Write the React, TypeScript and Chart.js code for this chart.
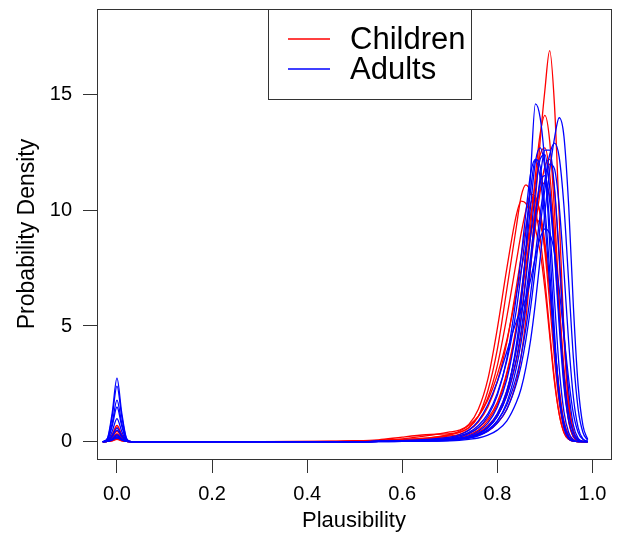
import React, { useEffect, useRef } from "react";
import { Chart, registerables } from "chart.js";

Chart.register(...registerables);

// Plausibility grid on which the density curves are read
const XS = [
  -0.03, -0.02, -0.01, 0, 0.01, 0.02, 0.03, 0.1, 0.3, 0.45, 0.5, 0.55,
  0.6, 0.65, 0.7, 0.72, 0.74, 0.76, 0.78, 0.8, 0.82, 0.84, 0.85, 0.86,
  0.87, 0.88, 0.89, 0.9, 0.91, 0.92, 0.93, 0.94, 0.95, 0.96, 0.97, 0.98, 0.99,
];

const X_TICKS = [0, 0.2, 0.4, 0.6, 0.8, 1.0];
const Y_TICKS = [0, 5, 10, 15];
const LEGEND_LABELS = ["Children", "Adults"];
const X_TITLE = "Plausibility";
const Y_TITLE = "Probability Density";

// Children (red)
const CHILD_1 = [0,0.01,0.07,0.15,0.07,0.01,0, 0,0,0,0,0.01, 0.02,0.04,0.08,0.12,0.18,0.28,0.45,0.8,1.4,2.6,3.7,5.3,7.6,10.4,13.0,15.2,16.9,14.6,9.8,4.8,1.6,0.4,0.06,0,0];
const CHILD_2 = [0,0.04,0.32,0.7,0.32,0.04,0, 0,0,0,0.01,0.02, 0.03,0.06,0.1,0.15,0.25,0.4,0.7,1.2,2.2,4.0,5.4,7.2,9.3,11.5,13.3,14.1,13.0,10.0,6.1,2.8,0.9,0.2,0.03,0,0];
const CHILD_3 = [0,0.02,0.2,0.45,0.2,0.02,0, 0,0,0,0,0.02, 0.05,0.1,0.2,0.26,0.36,0.6,1.0,1.7,3.0,5.0,6.4,8.0,9.7,11.2,12.4,12.7,11.6,9.0,5.6,2.6,0.9,0.2,0.03,0,0];
const CHILD_4 = [0,0.02,0.14,0.3,0.14,0.02,0, 0,0,0.02,0.03,0.05, 0.1,0.15,0.3,0.4,0.6,1.1,2.2,4.0,6.6,9.3,10.6,11.1,10.8,10.0,8.8,7.0,4.8,2.7,1.2,0.4,0.1,0.02,0,0,0];
const CHILD_5 = [0,0.01,0.09,0.2,0.09,0.01,0, 0,0,0,0.02,0.06, 0.12,0.25,0.42,0.5,0.75,1.4,2.7,4.9,7.5,9.8,10.4,10.3,9.8,9.2,8.2,6.6,4.6,2.6,1.2,0.4,0.1,0.02,0,0,0];
const CHILD_6 = [0,0.03,0.27,0.6,0.27,0.03,0, 0,0,0,0.01,0.02, 0.03,0.08,0.15,0.2,0.3,0.5,0.9,1.6,2.9,4.9,6.2,7.6,8.9,10.0,10.9,11.2,10.6,8.8,6.0,3.2,1.3,0.4,0.1,0.02,0];
const CHILD_7 = [0,0.01,0.11,0.25,0.11,0.01,0, 0,0,0.01,0.03,0.08, 0.2,0.3,0.35,0.4,0.6,1.1,1.9,3.3,5.4,7.8,9.0,10.0,10.7,10.6,9.8,8.2,6.0,3.6,1.7,0.6,0.15,0.03,0,0,0];
const CHILD_8 = [0,0.01,0.04,0.1,0.04,0.01,0, 0,0,0,0,0.01, 0.02,0.05,0.1,0.15,0.2,0.35,0.6,1.1,2.0,3.5,4.6,6.0,7.6,9.3,10.8,11.9,12.2,10.9,7.9,4.4,1.8,0.5,0.1,0.01,0];
const CHILD_9 = [0,0.02,0.16,0.35,0.16,0.02,0, 0,0,0,0.02,0.04, 0.08,0.15,0.3,0.45,0.7,1.1,1.8,2.9,4.4,6.4,7.4,8.4,9.1,9.6,9.4,8.4,6.6,4.3,2.3,0.9,0.3,0.06,0,0,0];
const CHILD_10 = [0,0.01,0.05,0.12,0.05,0.01,0, 0,0,0,0.01,0.03, 0.06,0.12,0.25,0.32,0.5,0.85,1.5,2.6,4.3,6.7,8.0,9.3,10.3,10.5,9.9,8.6,6.6,4.3,2.2,0.8,0.2,0.04,0,0,0];

// Adults (blue)
const ADULT_1 = [0,0.15,1.25,2.75,1.25,0.15,0, 0,0,0,0,0.01, 0.02,0.04,0.08,0.12,0.2,0.35,0.6,1.1,2.1,4.2,5.9,8.3,11.6,14.6,14.0,12.0,8.6,4.8,2.0,0.6,0.12,0.02,0,0,0];
const ADULT_2 = [0,0.08,0.68,1.5,0.68,0.08,0, 0,0,0,0,0, 0.01,0.02,0.04,0.06,0.1,0.16,0.28,0.5,0.9,1.7,2.3,3.2,4.4,6.0,7.9,9.9,11.7,13.1,14.0,13.2,10.2,5.8,2.4,0.7,0.1];
const ADULT_3 = [0,0.03,0.22,0.5,0.22,0.03,0, 0,0,0,0,0.01, 0.02,0.04,0.08,0.12,0.18,0.3,0.5,0.9,1.6,2.8,3.7,4.9,6.4,8.1,9.8,11.3,12.4,12.9,12.3,10.2,6.9,3.6,1.4,0.4,0.06];
const ADULT_4 = [0,0.13,1.1,2.4,1.1,0.13,0, 0,0,0,0,0.01, 0.02,0.05,0.1,0.15,0.25,0.45,0.8,1.5,2.7,4.8,6.3,8.2,10.2,12.1,12.7,11.8,9.4,6.2,3.2,1.3,0.4,0.08,0.01,0,0];
const ADULT_5 = [0,0.1,0.8,1.8,0.8,0.1,0, 0,0,0,0,0.01, 0.02,0.04,0.07,0.1,0.16,0.28,0.5,0.9,1.7,3.2,4.3,5.8,7.6,9.6,11.4,12.6,12.6,11.0,8.1,4.8,2.2,0.7,0.15,0.02,0];
const ADULT_6 = [0,0.05,0.45,1.0,0.45,0.05,0, 0,0,0,0,0.01, 0.03,0.06,0.12,0.2,0.35,0.6,1.1,2.0,3.6,6.3,8.0,9.9,11.6,12.2,11.4,9.5,6.8,4.0,1.9,0.7,0.2,0.04,0,0,0];
const ADULT_7 = [0,0.02,0.13,0.3,0.13,0.02,0, 0,0,0,0,0.01, 0.03,0.07,0.15,0.25,0.4,0.7,1.2,2.1,3.5,5.7,7.3,9.1,10.9,12.2,11.9,10.1,7.4,4.4,2.1,0.8,0.2,0.04,0,0,0];
const ADULT_8 = [0,0.01,0.09,0.2,0.09,0.01,0, 0,0,0,0,0.02, 0.05,0.1,0.2,0.3,0.5,0.9,1.6,2.6,3.9,5.2,5.7,6.2,7.0,8.0,8.8,9.2,9.0,8.2,6.6,4.6,2.7,1.2,0.4,0.1,0.02];
const ADULT_9 = [0,0.03,0.27,0.6,0.27,0.03,0, 0,0,0,0,0.01, 0.02,0.05,0.1,0.14,0.2,0.35,0.6,1.1,2.0,3.6,4.8,6.3,8.0,9.8,11.2,11.5,10.4,8.2,5.4,2.9,1.2,0.4,0.08,0.01,0];
const ADULT_10 = [0,0.01,0.07,0.15,0.07,0.01,0, 0,0,0,0,0, 0.01,0.03,0.06,0.1,0.15,0.25,0.45,0.8,1.4,2.5,3.3,4.4,5.8,7.5,9.3,10.9,12.0,11.8,10.2,7.4,4.3,1.9,0.6,0.12,0.02];
const ADULT_11 = [0,0.01,0.11,0.25,0.11,0.01,0, 0,0,0,0,0.01, 0.02,0.04,0.08,0.12,0.2,0.35,0.65,1.2,2.2,4.0,5.3,7.0,8.9,10.8,12.2,12.4,11.0,8.2,5.0,2.4,0.9,0.25,0.05,0,0];

const CHILDREN = [CHILD_1, CHILD_2, CHILD_3, CHILD_4, CHILD_5, CHILD_6, CHILD_7, CHILD_8, CHILD_9, CHILD_10];
const ADULTS = [ADULT_1, ADULT_2, ADULT_3, ADULT_4, ADULT_5, ADULT_6, ADULT_7, ADULT_8, ADULT_9, ADULT_10, ADULT_11];

const RED = "#ff0000";
const BLUE = "#0000ff";
const FONT = "'Liberation Sans', Arial, Helvetica, sans-serif";
const AXIS_COLOR = "#333333";

export default function App() {
  const ref = useRef<HTMLCanvasElement>(null);

  useEffect(() => {
    const canvas = ref.current;
    if (!canvas) return;

    const mk = (ys: number[], color: string, label: string, order: number) => ({
      label,
      data: XS.map((x, j) => ({ x, y: ys[j] })),
      borderColor: color,
      backgroundColor: color,
      borderWidth: 1.3,
      pointRadius: 0,
      fill: false,
      cubicInterpolationMode: "monotone" as const,
      order,
    });

    const datasets = [
      ...ADULTS.map((ys, i) => mk(ys, BLUE, `Adults ${i + 1}`, 0)),
      ...CHILDREN.map((ys, i) => mk(ys, RED, `Children ${i + 1}`, 1)),
    ];

    const framePlugin = {
      id: "frameAndLegend",
      afterDraw(chart: any) {
        const { ctx, chartArea } = chart;
        ctx.save();
        ctx.strokeStyle = AXIS_COLOR;
        ctx.lineWidth = 1;
        ctx.strokeRect(
          Math.round(chartArea.left) + 0.5,
          Math.round(chartArea.top) + 0.5,
          Math.round(chartArea.right - chartArea.left),
          Math.round(chartArea.bottom - chartArea.top)
        );
        // legend box
        const lx = 268, ly = Math.round(chartArea.top), lw = 203, lh = 90;
        ctx.fillStyle = "#ffffff";
        ctx.fillRect(lx, ly, lw, lh);
        ctx.strokeRect(lx + 0.5, ly + 0.5, lw, lh);
        const colors = [RED, BLUE];
        const rowsY = [39, 69];
        ctx.font = `31px ${FONT}`;
        ctx.textBaseline = "middle";
        ctx.textAlign = "left";
        LEGEND_LABELS.forEach((t, i) => {
          ctx.strokeStyle = colors[i];
          ctx.lineWidth = 1.3;
          ctx.beginPath();
          ctx.moveTo(288, rowsY[i]);
          ctx.lineTo(330, rowsY[i]);
          ctx.stroke();
          ctx.fillStyle = "#000000";
          ctx.fillText(t, 350, rowsY[i] + 1);
        });
        ctx.restore();
      },
    };

    const chart = new Chart(canvas, {
      type: "line",
      data: { datasets: datasets as any },
      options: {
        animation: false,
        responsive: false,
        devicePixelRatio: 1,
        parsing: false as any,
        layout: { padding: { top: 9, right: 11, left: 0, bottom: 0 } },
        plugins: {
          legend: { display: false },
          tooltip: { enabled: false },
        },
        events: [],
        scales: {
          x: {
            type: "linear",
            min: -0.042,
            max: 1.039,
            afterBuildTicks: (axis: any) => {
              axis.ticks = X_TICKS.map((v) => ({ value: v }));
            },
            afterFit: (axis: any) => {
              axis.height = 75;
              axis.paddingLeft = 0;
              axis.paddingRight = 0;
            },
            grid: {
              drawOnChartArea: false,
              drawTicks: true,
              tickLength: 14,
              tickColor: AXIS_COLOR,
              tickWidth: 1,
            },
            border: { display: false },
            ticks: {
              padding: 9,
              color: "#000",
              font: { family: FONT, size: 20 },
              maxRotation: 0,
              autoSkip: false,
              callback: (v: any) => Number(v).toFixed(1),
            },
            title: {
              display: true,
              text: X_TITLE,
              color: "#000",
              font: { family: FONT, size: 22 },
              padding: { top: 0, bottom: 0 },
            },
          },
          y: {
            type: "linear",
            min: -0.748,
            max: 18.7,
            afterBuildTicks: (axis: any) => {
              axis.ticks = Y_TICKS.map((v) => ({ value: v }));
            },
            afterFit: (axis: any) => {
              axis.width = 97;
              axis.paddingTop = 0;
              axis.paddingBottom = 0;
            },
            grid: {
              drawOnChartArea: false,
              drawTicks: true,
              tickLength: 14,
              tickColor: AXIS_COLOR,
              tickWidth: 1,
            },
            border: { display: false },
            ticks: {
              padding: 11,
              color: "#000",
              font: { family: FONT, size: 20 },
              autoSkip: false,
              callback: (v: any) => String(v),
            },
            title: {
              display: true,
              text: Y_TITLE,
              color: "#000",
              font: { family: FONT, size: 23 },
              padding: { top: 14, bottom: 0 },
            },
          },
        },
      },
      plugins: [framePlugin],
    });

    return () => chart.destroy();
  }, []);

  return (
    <div
      style={{
        position: "fixed",
        left: 0,
        top: 0,
        width: 622,
        height: 534,
        background: "#ffffff",
      }}
    >
      <canvas ref={ref} width={622} height={534} style={{ display: "block" }} />
    </div>
  );
}
